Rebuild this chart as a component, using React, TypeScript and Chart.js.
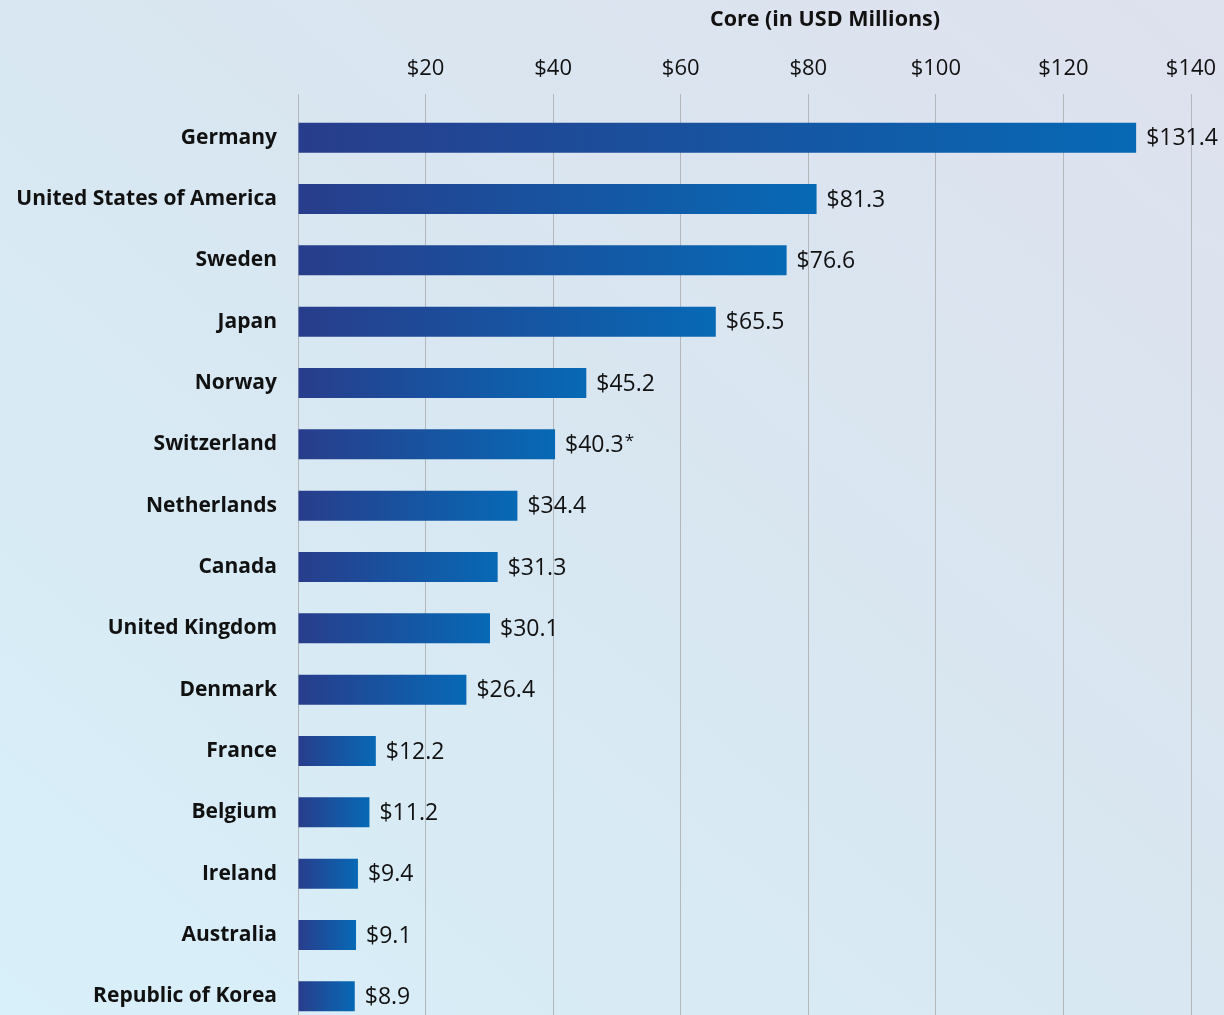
import React, { useEffect, useRef } from "react";
import { Chart, registerables } from "chart.js";

Chart.register(...registerables);

const countries = [
  "Germany",
  "United States of America",
  "Sweden",
  "Japan",
  "Norway",
  "Switzerland",
  "Netherlands",
  "Canada",
  "United Kingdom",
  "Denmark",
  "France",
  "Belgium",
  "Ireland",
  "Australia",
  "Republic of Korea",
];
const coreValues = [131.4, 81.3, 76.6, 65.5, 45.2, 40.3, 34.4, 31.3, 30.1, 26.4, 12.2, 11.2, 9.4, 9.1, 8.9];
const valueNotes = ["", "", "", "", "", "*", "", "", "", "", "", "", "", "", ""];
const axisTitle = "Core (in USD Millions)";
const xMin = 0;
const xMax = 140;
const xStep = 20;

const FONT = "'Open Sans', 'Noto Sans', sans-serif";
const W = 1224;
const H = 1027;

export default function App() {
  const ref = useRef<HTMLCanvasElement | null>(null);

  useEffect(() => {
    document.documentElement.style.overflow = "hidden";
    document.body.style.margin = "0";
    document.body.style.overflow = "hidden";
    const canvas = ref.current;
    if (!canvas) return;

    const titlePlugin = {
      id: "axisTitleTop",
      afterDraw(chart: any) {
        const { ctx } = chart;
        ctx.save();
        ctx.font = `bold 21.5px ${FONT}`;
        ctx.fillStyle = "#111111";
        ctx.textAlign = "center";
        ctx.textBaseline = "middle";
        ctx.fillText(axisTitle, 825, 20);
        ctx.restore();
      },
    };

    const valueLabels = {
      id: "valueLabels",
      afterDatasetsDraw(chart: any) {
        const { ctx } = chart;
        const meta = chart.getDatasetMeta(0);
        ctx.save();
        ctx.font = `23px ${FONT}`;
        ctx.fillStyle = "#111111";
        ctx.textAlign = "left";
        ctx.textBaseline = "middle";
        meta.data.forEach((bar: any, i: number) => {
          const v = coreValues[i];
          const txt = `$${v.toFixed(1)}`;
          ctx.fillText(txt, bar.x + 10, bar.y + 1);
          if (valueNotes[i]) {
            const w = ctx.measureText(txt).width;
            ctx.save();
            ctx.font = `17px ${FONT}`;
            ctx.fillText(valueNotes[i], bar.x + 10 + w + 1, bar.y - 3);
            ctx.restore();
          }
        });
        ctx.restore();
      },
    };

    const chart = new Chart(canvas, {
      type: "bar",
      data: {
        labels: countries,
        datasets: [
          {
            data: coreValues,
            backgroundColor: (c: any) => {
              const ch = c.chart;
              if (!ch.chartArea || c.type !== "data" || !ch.scales.x) return "#1a55a0";
              const xs = ch.scales.x;
              const x0 = xs.getPixelForValue(0);
              const x1 = xs.getPixelForValue(c.raw);
              if (!isFinite(x0) || !isFinite(x1) || x1 <= x0) return "#1a55a0";
              const g = ch.ctx.createLinearGradient(x0, 0, x1, 0);
              g.addColorStop(0, "#283d8b");
              g.addColorStop(1, "#0769b5");
              return g;
            },
            borderWidth: 0,
            barPercentage: 0.49,
            categoryPercentage: 1,
          },
        ],
      },
      options: {
        indexAxis: "y",
        animation: false,
        responsive: false,
        maintainAspectRatio: false,
        devicePixelRatio: 1,
        layout: { padding: { top: 0, right: 33, bottom: 0, left: 0 } },
        plugins: {
          legend: { display: false },
          tooltip: { enabled: false },
          title: { display: false },
        },
        scales: {
          x: {
            position: "top",
            min: xMin,
            max: xMax,
            border: { display: false },
            grid: {
              color: "#b3b7bc",
              lineWidth: 1,
              drawTicks: true,
              tickLength: 13,
            },
            ticks: {
              stepSize: xStep,
              padding: 12,
              color: "#111111",
              font: { family: FONT, size: 22 },
              callback: (v: any) => (Number(v) === 0 ? "" : `$${v}`),
              maxRotation: 0,
            },
            afterFit: (s: any) => {
              s.height = 107;
              s.paddingLeft = 0;
              s.paddingRight = 0;
            },
          },
          y: {
            border: { display: false },
            grid: { display: false, drawTicks: false },
            ticks: {
              padding: 21,
              color: "#111111",
              font: { family: FONT, size: 21, weight: "bold" },
            },
            afterFit: (s: any) => {
              s.width = 298;
              s.paddingTop = 0;
              s.paddingBottom = 0;
            },
          },
        },
      },
      plugins: [titlePlugin, valueLabels],
    } as any);

    return () => chart.destroy();
  }, []);

  return (
    <div
      style={{
        position: "fixed",
        left: 0,
        top: 0,
        width: W,
        height: H,
        background: "linear-gradient(to top right, #d8f0fa 0%, #d8e7f1 50%, #dee1ee 100%)",
      }}
    >
      <canvas ref={ref} width={W} height={H} style={{ display: "block", width: W, height: H }} />
    </div>
  );
}
